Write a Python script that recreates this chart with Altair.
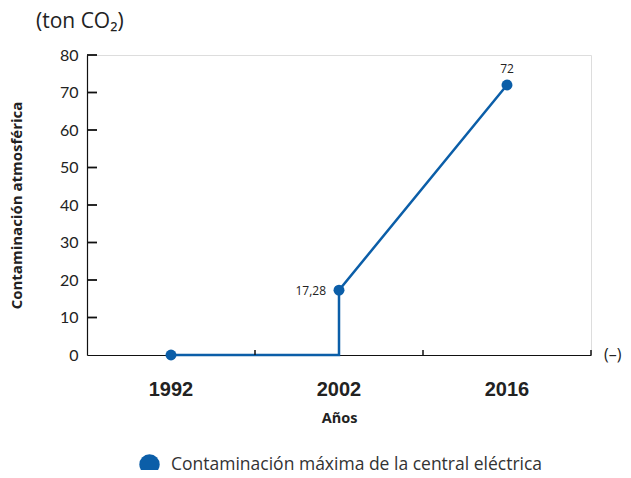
import altair as alt
import pandas as pd

# ---- data ----
years = ["1992", "2002", "2016"]
values = [0, 17.28, 72]
point_labels = ["", "17,28", "72"]
# line path vertices (the line stays at 0 until 2002, then jumps)
path_years = ["1992", "2002", "2002", "2016"]
path_values = [0, 0, 17.28, 72]
y_ticks = [10, 20, 30, 40, 50, 60, 70, 80]
y_labels = [0, 10, 20, 30, 40, 50, 60, 70, 80]
series_name = "Contaminación máxima de la central eléctrica"
y_title = "Contaminación atmosférica"
x_title = "Años"
unit_title = "(ton CO₂)"
x_unit = "(–)"

BLUE = "#0b5ea8"
TXT = "#222222"
FONT = "Open Sans"

pts = pd.DataFrame({"year": years, "value": values, "label": point_labels,
                    "series": [series_name] * len(years)})
path = pd.DataFrame({"year": path_years, "value": path_values,
                     "step": list(range(len(path_years)))})
yt = pd.DataFrame({"value": y_ticks})
xt = pd.DataFrame({"year": years})

xscale = alt.Scale(domain=years, paddingInner=0, paddingOuter=0)
yscale = alt.Scale(domain=[0, 80], nice=False, zero=True)

x_axis = alt.Axis(labelAngle=0, ticks=False, domain=True, domainColor="#111",
                  domainWidth=1.2, labelFont="Liberation Sans",
                  labelFontWeight="bold", labelFontSize=20, labelColor=TXT,
                  labelPadding=24, titleFont=FONT, titleFontWeight="bold",
                  titleFontSize=14.5, titleColor=TXT, titlePadding=12)
y_axis = alt.Axis(values=y_labels, ticks=False, grid=False, domain=True,
                  domainColor="#111", domainWidth=1.2, labelFont="Lato",
                  labelFontSize=16, labelColor=TXT, labelPadding=9,
                  labelOverlap=False,
                  titleFont=FONT, titleFontWeight="bold", titleFontSize=15,
                  titleColor=TXT, titlePadding=34.5)


def X(**kw):
    return alt.X("year:O", scale=xscale, sort=years, title=x_title, axis=x_axis, **kw)


def Y():
    return alt.Y("value:Q", scale=yscale, title=y_title, axis=y_axis)


line = alt.Chart(path).mark_line(color=BLUE, strokeWidth=2.5).encode(
    x=X(), y=Y(), order="step:Q")

points = alt.Chart(pts).mark_point(filled=True, size=120, opacity=1).encode(
    x=X(), y=Y(),
    color=alt.Color("series:N",
                    scale=alt.Scale(domain=[series_name], range=[BLUE]),
                    legend=alt.Legend(title=None, orient="none", legendX=52, legendY=399,
                                      symbolType="circle", symbolSize=415,
                                      labelFont=FONT, labelFontSize=17.5, labelColor="#333",
                                      labelOffset=11, labelLimit=0, padding=0,
                                      symbolStrokeWidth=0, symbolOpacity=1)))

lab_left = alt.Chart(pts).transform_filter("datum.year == '2002'").mark_text(
    align="right", baseline="middle", dx=-13, dy=1, font=FONT, fontSize=12, color=TXT
).encode(x=X(), y=Y(), text="label:N")

lab_top = alt.Chart(pts).transform_filter("datum.year == '2016'").mark_text(
    align="center", baseline="middle", dy=-16, font=FONT, fontSize=12, color=TXT
).encode(x=X(), y=Y(), text="label:N")

ytick_rules = alt.Chart(yt).mark_rule(color="#111", strokeWidth=1.8).encode(
    y=Y(), x=alt.value(0), x2=alt.value(10))

xtick_rules = alt.Chart(xt).mark_rule(color="#111", strokeWidth=1.5).encode(
    x=X(bandPosition=1), y=alt.value(295), y2=alt.value(300))

unit_txt = alt.Chart(pd.DataFrame({"t": [unit_title]})).mark_text(
    align="left", baseline="alphabetic", font=FONT, fontSize=21, color=TXT
).encode(x=alt.value(-51), y=alt.value(-27), text="t:N")

xunit_txt = alt.Chart(pd.DataFrame({"t": [x_unit]})).mark_text(
    align="left", baseline="middle", font=FONT, fontSize=16, color=TXT
).encode(x=alt.value(517), y=alt.value(300), text="t:N")

chart = alt.layer(line, xtick_rules, ytick_rules, points, lab_left, lab_top,
                  unit_txt, xunit_txt).properties(
    width=504, height=300,
    autosize=alt.AutoSizeParams(type="none"),
    padding={"left": 79, "top": 47, "right": 32, "bottom": 115},
).configure_view(stroke=None).configure(background="white")

chart.save("out.html", embed_options={"renderer": "svg", "actions": False})
